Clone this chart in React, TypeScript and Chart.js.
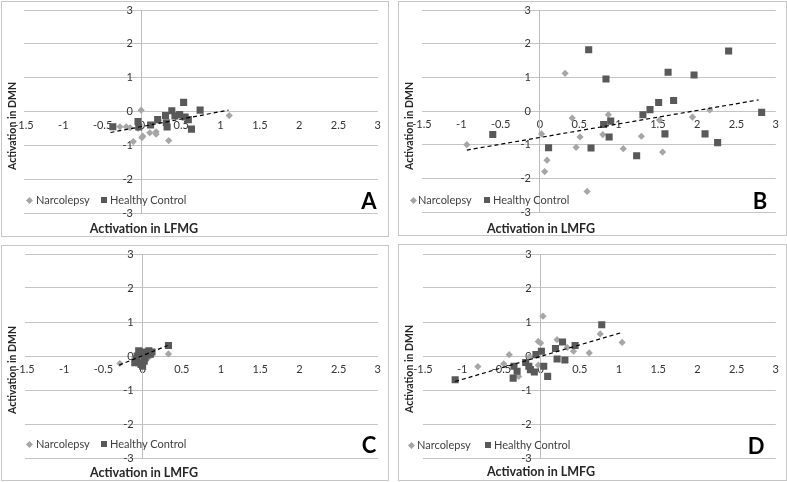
import React, { useEffect, useRef } from "react";
import { Chart, registerables } from "chart.js";

Chart.register(...registerables);

const FONT = "Lato, 'Open Sans', sans-serif";

const xMin = -1.5;
const xMax = 3;
const xStep = 0.5;
const yMin = -3;
const yMax = 3;
const yStep = 1;
const seriesNames = ["Narcolepsy", "Healthy Control"];

// Panel A
const aNarcX = [-0.01, -0.28, -0.2, -0.15, -0.05, -0.11, 0, 0.01, 0.1, 0.18, 0.18, 0.34, 0.21, 1.11];
const aNarcY = [0.04, -0.45, -0.45, -0.48, -0.5, -0.89, -0.77, -0.73, -0.63, -0.6, -0.67, -0.86, -0.26, -0.12];
const aHcX = [-0.37, -0.05, -0.04, 0.11, 0.2, 0.3, 0.32, 0.31, 0.38, 0.42, 0.48, 0.53, 0.55, 0.59, 0.63, 0.74];
const aHcY = [-0.45, -0.3, -0.46, -0.4, -0.24, -0.12, -0.46, -0.33, 0.02, -0.13, -0.09, 0.27, -0.16, -0.24, -0.52, 0.04];
const aTrendX = [-0.4, 1.1];
const aTrendY = [-0.62, 0.04];

// Panel B
const bNarcX = [-0.93, 0.02, 0.06, 0.09, 0.32, 0.41, 0.46, 0.51, 0.6, 0.8, 0.87, 1.06, 1.29, 1.52, 1.56, 1.94, 2.16];
const bNarcY = [-1.0, -0.68, -1.8, -1.46, 1.12, -0.21, -1.08, -0.77, -2.39, -0.7, -0.11, -1.12, -0.75, -0.27, -1.22, -0.18, 0.03];
const bHcX = [-0.6, 0.11, 0.62, 0.65, 0.81, 0.84, 0.88, 0.9, 1.23, 1.31, 1.4, 1.51, 1.59, 1.63, 1.7, 1.96, 2.1, 2.26, 2.4, 2.82];
const bHcY = [-0.7, -1.09, 1.82, -1.1, -0.4, 0.95, -0.77, -0.3, -1.33, -0.11, 0.04, 0.25, -0.68, 1.15, 0.31, 1.07, -0.68, -0.94, 1.78, -0.04];
const bTrendX = [-0.93, 2.78];
const bTrendY = [-1.16, 0.33];

// Panel C
const cNarcX = [-0.29, 0.33, -0.1, 0.05, 0.1, -0.05, 0.08, 0.02];
const cNarcY = [-0.22, 0.06, -0.05, -0.1, 0.0, 0.08, -0.02, -0.2];
const cHcX = [0.33, -0.08, -0.05, -0.03, 0, 0.02, 0.05, 0.08, 0.1, -0.07, 0.03, 0.12, -0.02, -0.1, -0.05, 0.08, 0.0];
const cHcY = [0.31, -0.1, -0.2, 0.05, 0.12, -0.15, 0.03, 0.1, 0.05, 0.0, -0.05, 0.12, -0.25, -0.2, 0.15, 0.15, -0.3];
const cTrendX = [-0.3, 0.32];
const cTrendY = [-0.27, 0.31];

// Panel D
const dNarcX = [-0.8, -0.47, -0.4, -0.28, -0.14, -0.03, -0.03, 0.0, 0.03, 0.21, 0.34, 0.42, 0.62, 0.76, 1.04];
const dNarcY = [-0.31, -0.23, 0.04, -0.6, -0.02, -0.27, 0.43, 0.38, 1.17, 0.48, 0.25, 0.14, 0.09, 0.65, 0.4];
const dHcX = [-1.09, -0.35, -0.34, -0.3, -0.19, -0.15, -0.13, -0.08, -0.06, 0.01, 0.04, 0.09, 0.19, 0.21, 0.28, 0.31, 0.44, 0.78];
const dHcY = [-0.7, -0.65, -0.3, -0.45, -0.19, -0.3, -0.4, -0.47, 0.04, 0.14, -0.3, -0.6, 0.22, -0.09, 0.41, -0.12, 0.31, 0.92];
const dTrendX = [-1.09, 1.02];
const dTrendY = [-0.75, 0.68];

const zip = (xs: number[], ys: number[]) => xs.map((x, i) => ({ x, y: ys[i] }));
const fmt = (v: number | string) => String(+Number(v).toFixed(2));

const TICK_COLOR = "#333333";
const TICK_FONT_SIZE = 11;

// Draws the y tick labels to the left of the y axis (which crosses at x = 0)
const yLabelPlugin = {
  id: "yLabelsAtZero",
  beforeDatasetsDraw(chart: any) {
    const { ctx, scales } = chart;
    const xs = scales.x;
    const ys = scales.y;
    const px = xs.getPixelForValue(0) - 9;
    ctx.save();
    ctx.font = `${TICK_FONT_SIZE}px ${FONT}`;
    ctx.fillStyle = TICK_COLOR;
    ctx.textAlign = "right";
    ctx.textBaseline = "middle";
    ys.ticks.forEach((t: any) => {
      ctx.fillText(fmt(t.value), px, ys.getPixelForValue(t.value));
    });
    ctx.restore();
  },
};

type PanelProps = {
  left: number;
  top: number;
  width: number;
  height: number;
  pad: { left: number; top: number; right: number; bottom: number };
  narcX: number[];
  narcY: number[];
  hcX: number[];
  hcY: number[];
  trendX: number[];
  trendY: number[];
  xTitle: string;
  yTitle: string;
  letter: string;
  letterPos: [number, number];
  legend: { d: number; dt: number; s: number; st: number; y: number };
};

function Panel(p: PanelProps) {
  const ref = useRef<HTMLCanvasElement | null>(null);
  const cw = p.width - 2;
  const ch = p.height - 2;
  useEffect(() => {
    if (!ref.current) return;
    const chart = new Chart(ref.current, {
      type: "scatter",
      data: {
        datasets: [
          {
            label: seriesNames[0],
            data: zip(p.narcX, p.narcY),
            pointStyle: "rectRot",
            pointRadius: 3.6,
            backgroundColor: "#a6a6a6",
            borderColor: "#a6a6a6",
            borderWidth: 0,
            order: 2,
          },
          {
            label: seriesNames[1],
            data: zip(p.hcX, p.hcY),
            pointStyle: "rect",
            pointRadius: 5,
            backgroundColor: "#595959",
            borderColor: "#595959",
            borderWidth: 0,
            order: 1,
          },
          {
            label: "Linear",
            data: zip(p.trendX, p.trendY),
            showLine: true,
            pointRadius: 0,
            borderColor: "#000000",
            borderWidth: 1.2,
            borderDash: [4, 3],
            order: 0,
          },
        ],
      },
      options: {
        responsive: false,
        animation: false,
        layout: { padding: p.pad },
        plugins: { legend: { display: false }, tooltip: { enabled: false } },
        scales: {
          x: {
            type: "linear",
            min: xMin,
            max: xMax,
            position: { y: 0 } as any,
            grid: { display: false, drawTicks: false },
            border: { display: false },
            ticks: {
              stepSize: xStep,
              autoSkip: false,
              maxRotation: 0,
              padding: 7,
              color: TICK_COLOR,
              font: { family: FONT, size: TICK_FONT_SIZE },
              callback: (v: any) => fmt(v),
            },
          },
          y: {
            type: "linear",
            min: yMin,
            max: yMax,
            position: { x: 0 } as any,
            grid: { display: true, color: "#c4c4c4", drawTicks: false, lineWidth: 1 },
            border: { display: true, color: "#bdbdbd", width: 1 },
            ticks: {
              stepSize: yStep,
              display: false,
            },
          },
        },
      },
      plugins: [yLabelPlugin],
    });
    return () => chart.destroy();
  }, []);

  const lg = p.legend;
  const textStyle: React.CSSProperties = {
    position: "absolute",
    top: lg.y - 8,
    font: `11px ${FONT}`,
    color: "#404040",
    whiteSpace: "nowrap",
    lineHeight: "16px",
  };
  return (
    <div
      style={{
        position: "absolute",
        left: p.left,
        top: p.top,
        width: p.width,
        height: p.height,
        border: "1px solid #c6c6c6",
        boxSizing: "border-box",
        background: "#fff",
      }}
    >
      <canvas ref={ref} width={cw} height={ch} style={{ width: cw, height: ch, display: "block" }} />
      <div
        style={{
          position: "absolute",
          left: 142,
          top: 226,
          transform: "translate(-50%, -50%)",
          font: `bold 12.5px ${FONT}`,
          color: "#262626",
          whiteSpace: "nowrap",
        }}
      >
        {p.xTitle}
      </div>
      <div
        style={{
          position: "absolute",
          left: 10,
          top: 124,
          transform: "translate(-50%, -50%) rotate(-90deg)",
          font: `bold 10.5px ${FONT}`,
          color: "#262626",
          whiteSpace: "nowrap",
        }}
      >
        {p.yTitle}
      </div>
      <div
        style={{
          position: "absolute",
          left: lg.d - 2.5,
          top: lg.y - 2.5,
          width: 5,
          height: 5,
          background: "#a6a6a6",
          transform: "rotate(45deg)",
        }}
      />
      <div style={{ ...textStyle, left: lg.dt }}>{seriesNames[0]}</div>
      <div
        style={{
          position: "absolute",
          left: lg.s - 3,
          top: lg.y - 3,
          width: 6,
          height: 6,
          background: "#595959",
        }}
      />
      <div style={{ ...textStyle, left: lg.st }}>{seriesNames[1]}</div>
      <div
        style={{
          position: "absolute",
          left: p.letterPos[0],
          top: p.letterPos[1],
          transform: "translate(-50%, -50%)",
          font: `bold 22px ${FONT}`,
          color: "#000",
          lineHeight: "22px",
        }}
      >
        {p.letter}
      </div>
    </div>
  );
}

export default function App() {
  return (
    <div style={{ position: "absolute", left: 0, top: 0, width: 787, height: 482, background: "#fff" }}>
      <Panel
        left={1} top={1} width={388} height={236}
        pad={{ left: 22, top: 8, right: 8, bottom: 23 }}
        narcX={aNarcX} narcY={aNarcY} hcX={aHcX} hcY={aHcY} trendX={aTrendX} trendY={aTrendY}
        xTitle="Activation in LFMG" yTitle="Activation in DMN" letter="A" letterPos={[367, 199]}
        legend={{ d: 27, dt: 34, s: 102, st: 108, y: 198 }}
      />
      <Panel
        left={398} top={1} width={389} height={235}
        pad={{ left: 23, top: 8, right: 9, bottom: 23 }}
        narcX={bNarcX} narcY={bNarcY} hcX={bHcX} hcY={bHcY} trendX={bTrendX} trendY={bTrendY}
        xTitle="Activation in LMFG" yTitle="Activation in DMN" letter="B" letterPos={[361, 199]}
        legend={{ d: 14, dt: 19, s: 88, st: 94, y: 198 }}
      />
      <Panel
        left={1} top={245} width={388} height={236}
        pad={{ left: 23, top: 8, right: 8, bottom: 22 }}
        narcX={cNarcX} narcY={cNarcY} hcX={cHcX} hcY={cHcY} trendX={cTrendX} trendY={cTrendY}
        xTitle="Activation in LMFG" yTitle="Activation in DMN" letter="C" letterPos={[367, 199]}
        legend={{ d: 27, dt: 34, s: 102, st: 108, y: 198 }}
      />
      <Panel
        left={398} top={244} width={389} height={237}
        pad={{ left: 24, top: 9, right: 9, bottom: 22 }}
        narcX={dNarcX} narcY={dNarcY} hcX={dHcX} hcY={dHcY} trendX={dTrendX} trendY={dTrendY}
        xTitle="Activation in LMFG" yTitle="Activation in DMN" letter="D" letterPos={[357, 201]}
        legend={{ d: 12, dt: 18, s: 89, st: 95, y: 200 }}
      />
    </div>
  );
}
